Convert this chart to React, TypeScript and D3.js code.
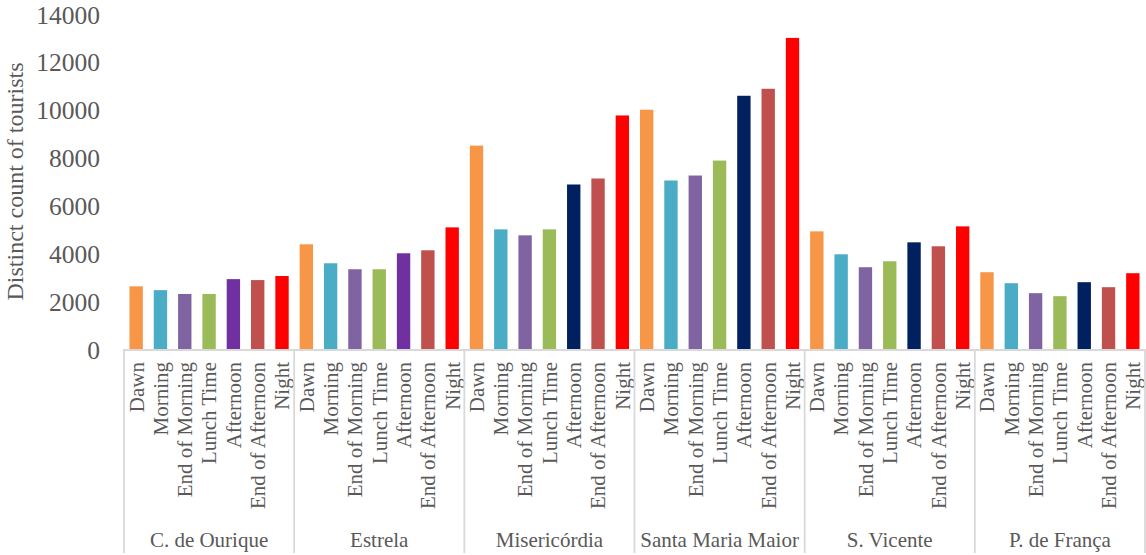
import React from "react";
import * as d3 from "d3";

const groups = ["C. de Ourique", "Estrela", "Misericórdia", "Santa Maria Maior", "S. Vicente", "P. de França"];
const periods = ["Dawn", "Morning", "End of Morning", "Lunch Time", "Afternoon", "End of Afternoon", "Night"];

const cOurique = [2620, 2460, 2300, 2300, 2920, 2880, 3050];
const estrela = [4375, 3583, 3333, 3333, 4000, 4125, 5083];
const misericordia = [8500, 5000, 4750, 5000, 6875, 7125, 9760];
const santaMariaMaior = [10000, 7042, 7250, 7875, 10583, 10875, 13000];
const sVicente = [4917, 3958, 3417, 3667, 4458, 4292, 5125];
const pFranca = [3208, 2750, 2333, 2208, 2792, 2583, 3167];

const groupValues = [cOurique, estrela, misericordia, santaMariaMaior, sVicente, pFranca];

const yTicks = [0, 2000, 4000, 6000, 8000, 10000, 12000, 14000];

const periodColors = ["#F79646", "#4BACC6", "#8064A2", "#9BBB59", "#002060", "#C0504D", "#FF0000"];
const afternoonPurple = "#7030A0";

export default function App() {
  const W = 1146, H = 555;
  const left = 124, right = 1145, base = 349, top = 14;
  const x0 = d3.scaleBand<string>().domain(groups).range([left, right]).paddingInner(0).paddingOuter(0);
  const x1 = d3.scaleBand<string>().domain(periods).range([0, x0.bandwidth()]).paddingInner(0.45).paddingOuter(0.225);
  const y = d3.scaleLinear().domain([0, 14000]).range([base, top]);
  const font = "Liberation Serif, Times New Roman, serif";
  const gray = "#595959";
  const lineCol = "#D9D9D9";

  return (
    <svg width={W} height={H} style={{ position: "absolute", left: 0, top: 0, background: "#fff" }}>
      {yTicks.map((t) => (
        <text key={t} x={100} y={y(t) + 1} textAnchor="end" dominantBaseline="central" fontSize={25.5} fill={gray} fontFamily={font}>
          {t}
        </text>
      ))}
      <text transform={`translate(15,${(63 + 300) / 2}) rotate(-90)`} textAnchor="middle" dominantBaseline="central" fontSize={24} fill={gray} fontFamily={font}>
        Distinct count of tourists
      </text>
      {groups.map((g, gi) => (
        <g key={g} transform={`translate(${x0(g)},0)`}>
          {periods.map((p, pi) => {
            const v = groupValues[gi][pi];
            const color = pi === 4 && gi < 2 ? afternoonPurple : periodColors[pi];
            return (
              <rect key={p} x={x1(p)} y={y(v)} width={x1.bandwidth()} height={base - y(v)} fill={color} />
            );
          })}
          {periods.map((p) => (
            <text
              key={"l" + p}
              transform={`translate(${(x1(p) as number) + x1.bandwidth() / 2},362) rotate(-90)`}
              textAnchor="end"
              dy="0.35em"
              fontSize={21}
              fill={gray}
              fontFamily={font}
            >
              {p}
            </text>
          ))}
          <text x={x0.bandwidth() / 2} y={547} textAnchor="middle" fontSize={21} fill={gray} fontFamily={font}>
            {g}
          </text>
        </g>
      ))}
      <line x1={left} x2={right} y1={base + 1} y2={base + 1} stroke={lineCol} strokeWidth={1.8} />
      {[...groups.map((g) => x0(g) as number), right].map((xv, i) => (
        <line key={i} x1={xv} x2={xv} y1={base} y2={553} stroke={lineCol} strokeWidth={1.8} />
      ))}
    </svg>
  );
}
